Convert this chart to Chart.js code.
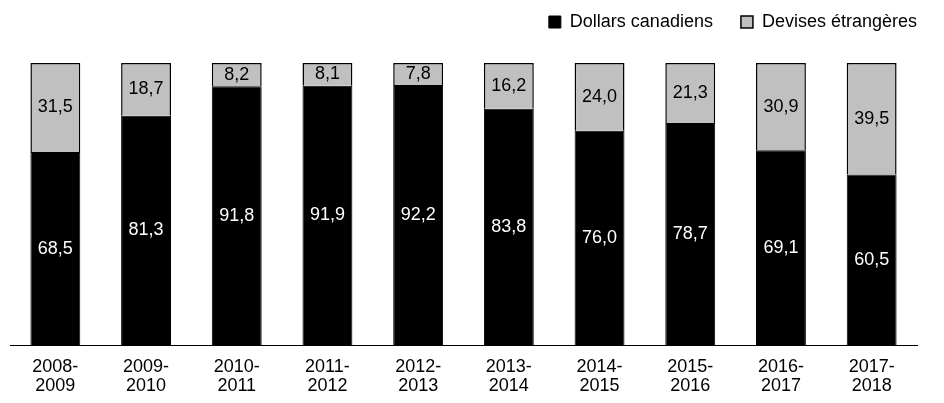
<!DOCTYPE html>
<html>
<head>
<meta charset="utf-8">
<script src="https://cdn.jsdelivr.net/npm/chart.js@4/dist/chart.umd.min.js"></script>
<style>
  html, body { margin: 0; padding: 0; background: #fff; }
  #wrap { width: 944px; height: 403px; }
</style>
</head>
<body>
<div id="wrap"><canvas id="fundsChart"></canvas></div>
<script>
  // data
  var periods = [['2008-', '2009'], ['2009-', '2010'], ['2010-', '2011'], ['2011-', '2012'], ['2012-', '2013'],
    ['2013-', '2014'], ['2014-', '2015'], ['2015-', '2016'], ['2016-', '2017'], ['2017-', '2018']];
  var dollarsCanadiens = [68.5, 81.3, 91.8, 91.9, 92.2, 83.8, 76.0, 78.7, 69.1, 60.5];
  var devisesEtrangeres = [31.5, 18.7, 8.2, 8.1, 7.8, 16.2, 24.0, 21.3, 30.9, 39.5];

  var fontName = "'Liberation Sans', Arial, sans-serif";

  // labels inside bars
  var barLabels = {
    id: 'barLabels',
    afterDatasetsDraw: function(chart) {
      var ctx = chart.ctx;
      ctx.save();
      ctx.font = '18px ' + fontName;
      ctx.textAlign = 'center';
      ctx.textBaseline = 'middle';
      chart.data.datasets.forEach(function(ds, i) {
        var meta = chart.getDatasetMeta(i);
        meta.data.forEach(function(bar, j) {
          var y = (bar.y + bar.base) / 2;
          ctx.fillStyle = ds.labelColor;
          ctx.fillText(ds.data[j].toFixed(1).replace('.', ','), bar.x, y);
        });
      });
      ctx.restore();
    }
  };

  // move the legend up and to the right
  var legendShift = {
    id: 'legendShift',
    afterLayout: function(chart) {
      chart.legend.top -= 22;
      chart.legend.bottom -= 22;
      chart.legend.left += 28;
      chart.legend.right += 28;
    }
  };

  var ctx = document.getElementById('fundsChart');
  var chart = new Chart(ctx, {
    type: 'bar',
    data: {
      labels: periods,
      datasets: [{
          label: 'Dollars canadiens',
          data: dollarsCanadiens,
          backgroundColor: '#000000',
          borderColor: '#000000',
          borderWidth: 1,
          labelColor: '#ffffff',
          barPercentage: 0.55,
          categoryPercentage: 1
        },
        {
          label: 'Devises étrangères',
          data: devisesEtrangeres,
          backgroundColor: '#c0c0c0',
          borderColor: '#000000',
          borderWidth: 1.5,
          labelColor: '#000000',
          barPercentage: 0.55,
          categoryPercentage: 1
        }
      ]
    },
    options: {
      responsive: true,
      maintainAspectRatio: false,
      animation: false,
      layout: {
        padding: { left: 10, right: 27, top: 7, bottom: 4 }
      },
      plugins: {
        tooltip: { enabled: false },
        legend: {
          align: 'end',
          labels: {
            color: '#000',
            boxWidth: 12,
            boxHeight: 12,
            padding: 28,
            font: { family: fontName, size: 18 }
          }
        }
      },
      scales: {
        x: {
          stacked: true,
          grid: { display: false },
          border: { display: true, color: '#000', width: 1 },
          ticks: {
            color: '#000',
            padding: 4,
            maxRotation: 0,
            font: { family: fontName, size: 18, lineHeight: 1.05 }
          }
        },
        y: {
          stacked: true,
          display: false,
          min: 0,
          max: 100
        }
      }
    },
    plugins: [barLabels, legendShift]
  });
</script>
</body>
</html>
